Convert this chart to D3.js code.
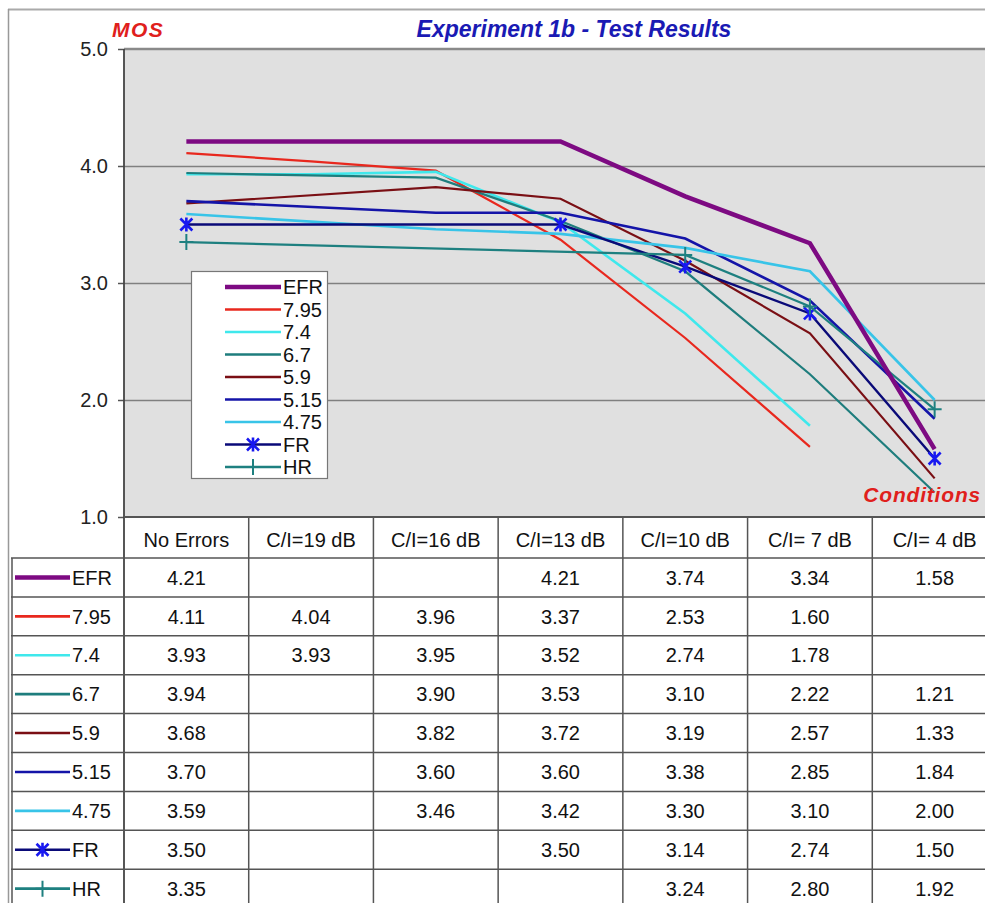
<!DOCTYPE html>
<html><head><meta charset="utf-8">
<script src="https://cdn.jsdelivr.net/npm/d3@7/dist/d3.min.js"></script>
<style>
body{margin:0;background:#fff}
svg{display:block}
text{font-family:"Liberation Sans",Arial,sans-serif}
</style>
</head><body>
<svg id="c" width="985" height="903"></svg>
<script>
// ---------- data ----------
const categories = ["No Errors","C/I=19 dB","C/I=16 dB","C/I=13 dB","C/I=10 dB","C/I= 7 dB","C/I= 4 dB"];
const seriesNames = ["EFR","7.95","7.4","6.7","5.9","5.15","4.75","FR","HR"];
const efrValues  = [4.21, null, null, 4.21, 3.74, 3.34, 1.58];
const r795Values = [4.11, 4.04, 3.96, 3.37, 2.53, 1.60, null];
const r74Values  = [3.93, 3.93, 3.95, 3.52, 2.74, 1.78, null];
const r67Values  = [3.94, null, 3.90, 3.53, 3.10, 2.22, 1.21];
const r59Values  = [3.68, null, 3.82, 3.72, 3.19, 2.57, 1.33];
const r515Values = [3.70, null, 3.60, 3.60, 3.38, 2.85, 1.84];
const r475Values = [3.59, null, 3.46, 3.42, 3.30, 3.10, 2.00];
const frValues   = [3.50, null, null, 3.50, 3.14, 2.74, 1.50];
const hrValues   = [3.35, null, null, null, 3.24, 2.80, 1.92];
const yTicks = [1, 2, 3, 4, 5];

// ---------- styles ----------
const styles = {
  "EFR":  {color:"#7d0a82", width:4.5, marker:null},
  "7.95": {color:"#e8281e", width:2.2, marker:null},
  "7.4":  {color:"#3fe8ec", width:2.6, marker:null},
  "6.7":  {color:"#1e7d7d", width:2.2, marker:null},
  "5.9":  {color:"#7a0f14", width:2.2, marker:null},
  "5.15": {color:"#1414a8", width:2.6, marker:null},
  "4.75": {color:"#38c4e8", width:2.6, marker:null},
  "FR":   {color:"#0a0a78", width:2.4, marker:"star", mcolor:"#1818f0"},
  "HR":   {color:"#1e8080", width:2.2, marker:"plus", mcolor:"#1e8080"}
};
const valuesBySeries = [efrValues, r795Values, r74Values, r67Values, r59Values, r515Values, r475Values, frValues, hrValues];
const series = seriesNames.map((n,i)=>({name:n, values:valuesBySeries[i]}));

const svg = d3.select("#c");
const W = 985, H = 903;
const FS = 20;
const plot = {left:124, right:997, top:49, bottom:517};
const x = d3.scaleBand().domain(categories).range([plot.left, plot.right]);
const y = d3.scaleLinear().domain([1,5]).range([plot.bottom, plot.top]);
const cx = c => x(c) + x.bandwidth()/2;

// outer frame
svg.append("line").attr("x1",8).attr("x2",W).attr("y1",9.5).attr("y2",9.5).attr("stroke","#aaa").attr("stroke-width",2);
svg.append("line").attr("x1",8.5).attr("x2",8.5).attr("y1",9).attr("y2",H).attr("stroke","#999").attr("stroke-width",1.5);

// plot background
svg.append("rect").attr("x",plot.left).attr("y",plot.top).attr("width",W-plot.left).attr("height",plot.bottom-plot.top).attr("fill","#e0e0e0");

// gridlines
svg.append("g").attr("transform",`translate(${plot.left},0)`)
  .call(d3.axisLeft(y).tickValues([2,3,4]).tickSize(-(W-plot.left)).tickFormat(""))
  .call(g=>g.select(".domain").remove())
  .call(g=>g.selectAll("line").attr("stroke","#808080").attr("stroke-width",1.6));
// top border of plot
svg.append("line").attr("x1",plot.left).attr("x2",W).attr("y1",y(5)).attr("y2",y(5)).attr("stroke","#8a8a8a").attr("stroke-width",2.5);

// y axis
svg.append("g").attr("transform",`translate(${plot.left},0)`)
  .call(d3.axisLeft(y).tickValues(yTicks).tickFormat(d3.format(".1f")).tickSize(6).tickPadding(10))
  .call(g=>g.select(".domain").remove())
  .call(g=>g.selectAll("line").attr("stroke","#555").attr("stroke-width",1.5))
  .call(g=>g.selectAll("text").attr("font-size",FS).attr("fill","#222").attr("font-family","'Liberation Sans',Arial,sans-serif"));
svg.append("line").attr("x1",plot.left).attr("x2",plot.left).attr("y1",plot.top).attr("y2",H).attr("stroke","#444").attr("stroke-width",1.8);

// lines
const line = d3.line().x(d=>cx(d.c)).y(d=>y(d.v));
const drawOrder = series.slice(1).concat([series[0]]);
drawOrder.forEach(s=>{
  const pts = s.values.map((v,i)=>({c:categories[i], v})).filter(d=>d.v!=null);
  const st = styles[s.name];
  svg.append("path").datum(pts).attr("d",line).attr("fill","none")
    .attr("stroke",st.color).attr("stroke-width",st.width).attr("stroke-linejoin","miter");
  if (st.marker) {
    svg.append("g").selectAll("path").data(pts).join("path")
      .attr("transform",d=>`translate(${cx(d.c)},${y(d.v)})`)
      .attr("d", st.marker==="star" ? "M0,-7V7M-6,-6L6,6M-6,6L6,-6" : "M0,-8V8M-7,0H7")
      .attr("stroke",st.mcolor).attr("stroke-width",st.marker==="star"?2.6:2).attr("fill","none");
  }
});

// legend in plot
const lg = svg.append("g");
lg.append("rect").attr("x",191.5).attr("y",271.5).attr("width",136).attr("height",207).attr("fill","#fff").attr("stroke","#777").attr("stroke-width",1.2);
function legendSymbol(g, name, x1, x2, yy){
  const st = styles[name];
  g.append("line").attr("x1",x1).attr("x2",x2).attr("y1",yy).attr("y2",yy)
    .attr("stroke",st.color).attr("stroke-width",name==="EFR"?4.5:2.6);
  if (st.marker) {
    const mx=(x1+x2)/2;
    g.append("path").attr("transform",`translate(${mx},${yy})`)
      .attr("d", st.marker==="star" ? "M0,-7V7M-6,-6L6,6M-6,6L6,-6" : "M0,-8V8M-7,0H7")
      .attr("stroke",st.mcolor).attr("stroke-width",st.marker==="star"?2.6:2).attr("fill","none");
  }
}
seriesNames.forEach((n,i)=>{
  const yy = 287 + i*22.5;
  legendSymbol(lg, n, 225, 281, yy);
  lg.append("text").attr("x",283).attr("y",yy).attr("dy","0.36em").attr("font-size",FS).attr("fill","#111").text(n);
});

// titles
svg.append("text").attr("x",574).attr("y",37).attr("text-anchor","middle").attr("font-size",23).attr("font-weight","bold").attr("font-style","italic").attr("fill","#1a1ab4").text("Experiment 1b - Test Results");
svg.append("text").attr("x",112).attr("y",37).attr("font-size",21).attr("font-weight","bold").attr("font-style","italic").attr("letter-spacing",1.5).attr("fill","#e0201c").text("MOS");
svg.append("text").attr("x",981).attr("y",502).attr("text-anchor","end").attr("font-size",21).attr("font-weight","bold").attr("font-style","italic").attr("letter-spacing",0.8).attr("fill","#e0201c").text("Conditions");

// table
const tbl = svg.append("g");
const headerTop = plot.bottom, rowTop = 558, rowH = 38.9;
const gridColor = "#555";
tbl.selectAll("text.hdr").data(categories).join("text").attr("class","hdr")
  .attr("x",d=>cx(d)).attr("y",(headerTop+rowTop)/2+2).attr("dy","0.36em").attr("text-anchor","middle")
  .attr("font-size",FS).attr("fill","#111").text(d=>d);
tbl.append("line").attr("x1",plot.left).attr("x2",W).attr("y1",headerTop).attr("y2",headerTop).attr("stroke",gridColor).attr("stroke-width",1.8);
d3.range(seriesNames.length+1).forEach(i=>{
  const yy = rowTop + i*rowH;
  tbl.append("line").attr("x1",11).attr("x2",W).attr("y1",yy).attr("y2",yy).attr("stroke",gridColor).attr("stroke-width",1.5);
});
categories.forEach((c,i)=>{
  if (i===0) return;
  tbl.append("line").attr("x1",x(c)).attr("x2",x(c)).attr("y1",headerTop).attr("y2",H).attr("stroke",gridColor).attr("stroke-width",1.5);
});
tbl.append("line").attr("x1",12).attr("x2",12).attr("y1",rowTop).attr("y2",H).attr("stroke",gridColor).attr("stroke-width",1.5);
series.forEach((s,i)=>{
  const yy = rowTop + i*rowH + rowH/2;
  legendSymbol(tbl, s.name, 15, 70, yy);
  tbl.append("text").attr("x",72).attr("y",yy).attr("dy","0.36em").attr("font-size",FS).attr("fill","#111").text(s.name);
  s.values.forEach((v,j)=>{
    if (v==null) return;
    tbl.append("text").attr("x",cx(categories[j])).attr("y",yy).attr("dy","0.36em").attr("text-anchor","middle")
      .attr("font-size",FS).attr("fill","#111").text(d3.format(".2f")(v));
  });
});
</script>
</body></html>
